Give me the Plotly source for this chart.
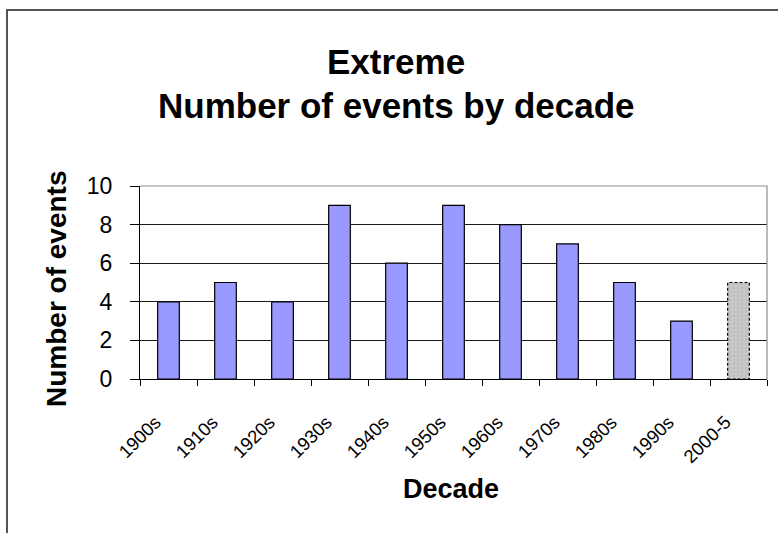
import plotly.graph_objects as go

decades = ["1900s", "1910s", "1920s", "1930s", "1940s", "1950s", "1960s", "1970s", "1980s", "1990s", "2000-5"]
events = [4, 5, 4, 9, 6, 9, 8, 7, 5, 3, 5]
y_ticks = [0, 2, 4, 6, 8, 10]

FONT = "Arial, 'Liberation Sans', sans-serif"
W, H = 778, 533
L, R, T, B = 140, 11, 186, 154
pw, ph = W - L - R, H - T - B
BAR_W = 0.38


def px_x(p):
    return (p - L) / pw


def px_y(p):
    return (H - B - p) / ph


fig = go.Figure()
fig.add_trace(go.Bar(
    x=decades[:-1], y=events[:-1], width=BAR_W,
    marker=dict(color="#9999FF", line=dict(color="#000000", width=1.2)),
    hoverinfo="x+y", showlegend=False,
))
fig.add_trace(go.Bar(
    x=decades[-1:], y=events[-1:], width=BAR_W,
    marker=dict(color="#C8C8C8", line=dict(width=0),
                pattern=dict(shape=".", size=4, solidity=0.25, fgcolor="#A8B0B0", bgcolor="#C8C8C8")),
    hoverinfo="x+y", showlegend=False,
))

shapes = []
# dashed outline of the partial-decade bar, derived from data
i_last = len(decades) - 1
shapes.append(dict(type="rect", xref="x", yref="y",
                   x0=i_last - BAR_W / 2, x1=i_last + BAR_W / 2, y0=0, y1=events[-1],
                   line=dict(color="#000000", width=1.2, dash="3px,2px"), layer="above"))
# plot area border (gray) top/right
shapes.append(dict(type="path", xref="paper", yref="paper",
                   path="M 0 1 L 1 1 L 1 0", line=dict(color="#8C8C8C", width=1.2), layer="above"))
# outer chart border (extends beyond the picture on right and bottom)
shapes.append(dict(type="path", xref="paper", yref="paper",
                   path=f"M {px_x(7)} {px_y(560)} L {px_x(7)} {px_y(10)} L {px_x(800)} {px_y(10)}",
                   line=dict(color="#555555", width=2)))

annotations = [
    dict(text="<b>Number of events</b>", xref="paper", yref="paper",
         x=px_x(56), y=px_y(289), textangle=-90, showarrow=False,
         font=dict(family=FONT, size=28, color="#000000"), xanchor="center", yanchor="middle"),
    dict(text="<b>Decade</b>", xref="paper", yref="paper",
         x=px_x(451), y=px_y(489), showarrow=False,
         font=dict(family=FONT, size=27, color="#000000"), xanchor="center", yanchor="middle"),
    dict(text="<b>Extreme</b>", xref="paper", yref="paper",
         x=px_x(396), y=px_y(62), showarrow=False,
         font=dict(family=FONT, size=35, color="#000000"), xanchor="center", yanchor="middle"),
    dict(text="<b>Number of events by decade</b>", xref="paper", yref="paper",
         x=px_x(396), y=px_y(105), showarrow=False,
         font=dict(family=FONT, size=35, color="#000000"), xanchor="center", yanchor="middle"),
]

fig.update_layout(
    width=W, height=H,
    margin=dict(l=L, r=R, t=T, b=B, pad=0),
    paper_bgcolor="#FFFFFF", plot_bgcolor="#FFFFFF",
    shapes=shapes, annotations=annotations,
    bargap=0.6, showlegend=False,
    font=dict(family=FONT, color="#000000"),
)
fig.update_xaxes(
    type="category", categoryorder="array", categoryarray=decades,
    showline=True, linecolor="#000000", linewidth=1.2,
    ticks="outside", tickson="boundaries", ticklen=6, tickcolor="#000000", tickwidth=1.2,
    tickangle=-45, tickfont=dict(family=FONT, size=18.5, color="#000000"),
    ticklabelstandoff=24, ticklabelshift=-13,
    showgrid=False, zeroline=False,
)
fig.update_yaxes(
    range=[0, 10], tickvals=y_ticks, ticktext=[str(v) for v in y_ticks],
    showline=True, linecolor="#000000", linewidth=1.2,
    ticks="outside", ticklen=9, tickcolor="#000000", tickwidth=1.2,
    tickfont=dict(family=FONT, size=23, color="#000000"), ticklabelstandoff=13,
    showgrid=True, gridcolor="#1A1A1A", gridwidth=1.2, zeroline=False,
)

fig.write_html("out.html", config={"displayModeBar": False},
               post_script="document.body.style.margin='0';")
